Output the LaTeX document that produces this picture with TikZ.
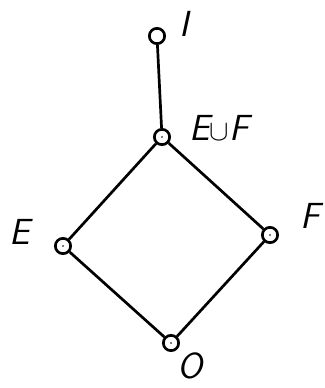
\documentclass[tikz,border=0pt]{standalone}
\usepackage{fontspec}
\usepackage{tikz}

\begin{document}
\begin{tikzpicture}[x=0.03cm, y=-0.03cm,
    vertex/.style={circle, draw, line width=2.3pt, fill=white, inner sep=0pt, minimum size=0.46cm},
    lbl/.style={font=\sffamily\itshape\fontsize{31}{31}\selectfont},
    edge/.style={line width=2.3pt}]
    % frame
    \useasboundingbox (0,0) rectangle (324,388);

    % elements of the lattice
    \node[vertex] (one)  at (157, 36)  {};
    \node[vertex] (euf)  at (162, 137) {};
    \node[vertex] (e)    at (63, 246)  {};
    \node[vertex] (f)    at (270, 235) {};
    \node[vertex] (zero) at (171, 343) {};

    % order relations
    \draw[edge] (one) -- (euf);
    \draw[edge] (euf) -- (e);
    \draw[edge] (euf) -- (f);
    \draw[edge] (e) -- (zero);
    \draw[edge] (f) -- (zero);

    % centre dots
    \foreach \v in {euf, e, f, zero}
        \fill (\v) circle (0.8pt);

    % labels
    \node[lbl] at (184, 24)  {I};
    \node[lbl] at (219, 128) {E{\upshape$\cup$}F};
    \node[lbl] at (20, 232)  {E};
    \node[lbl] at (310, 216) {F};
    \node[lbl] at (190, 366) {O};
\end{tikzpicture}
\end{document}
